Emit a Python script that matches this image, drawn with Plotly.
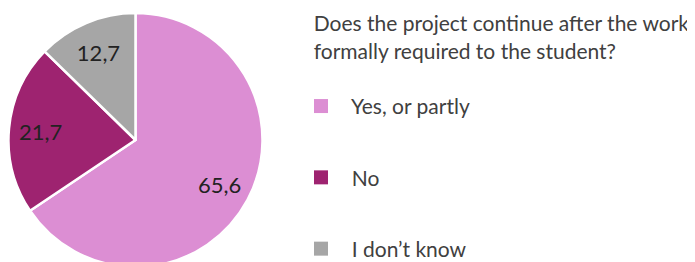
import plotly.graph_objects as go

categories = ["Yes, or partly", "No", "I don\u2019t know"]
values = [65.6, 21.7, 12.7]
colors = ["#DC8ED3", "#9E2370", "#A6A6A6"]
legend_title_lines = ["Does the project continue after the work",
                      "formally required to the student?"]

W, H = 695, 262
fig = go.Figure()

pie_domain = dict(x=[0.5 / W, 254.5 / W], y=[3 / H, 257 / H])

fig.add_trace(go.Pie(
    labels=categories,
    values=values,
    sort=False,
    direction="clockwise",
    rotation=0,
    marker=dict(colors=colors, line=dict(color="white", width=2.5)),
    textinfo="none",
    showlegend=False,
    hoverinfo="skip",
    domain=pie_domain,
))

# transparent ring used only to place the value labels further out
fig.add_trace(go.Pie(
    labels=categories,
    values=values,
    sort=False,
    direction="clockwise",
    rotation=0,
    hole=0.5,
    marker=dict(colors=["rgba(0,0,0,0)"] * 3, line=dict(width=0)),
    texttemplate="%{value:.1f}",
    textposition="inside",
    insidetextorientation="horizontal",
    textfont=dict(family="Lato", size=22, color="#222222"),
    showlegend=False,
    hoverinfo="skip",
    domain=pie_domain,
))

for name, col in zip(categories, colors):
    fig.add_trace(go.Scatter(
        x=[None], y=[None], mode="markers",
        marker=dict(symbol="square", size=14, color=col),
        name="\u00a0\u00a0" + name,
        legendgroup=name,
        hoverinfo="skip",
    ))

title_text = "<br>".join("\u00a0\u00a0" + s for s in legend_title_lines) + "<br>\u00a0"

fig.update_layout(
    width=W, height=H,
    margin=dict(l=0, r=0, t=0, b=0, autoexpand=False),
    paper_bgcolor="white",
    plot_bgcolor="white",
    separators=", ",
    xaxis=dict(visible=False),
    yaxis=dict(visible=False),
    legend=dict(
        title=dict(text=title_text, font=dict(family="Lato", size=21, color="#404040")),
        font=dict(family="Lato", size=21, color="#404040"),
        x=293 / W, xanchor="left",
        y=1 + 4 / H, yanchor="top",
        tracegroupgap=41,
        maxheight=500,
        itemclick=False, itemdoubleclick=False,
    ),
)

fig.write_html("out.html")
